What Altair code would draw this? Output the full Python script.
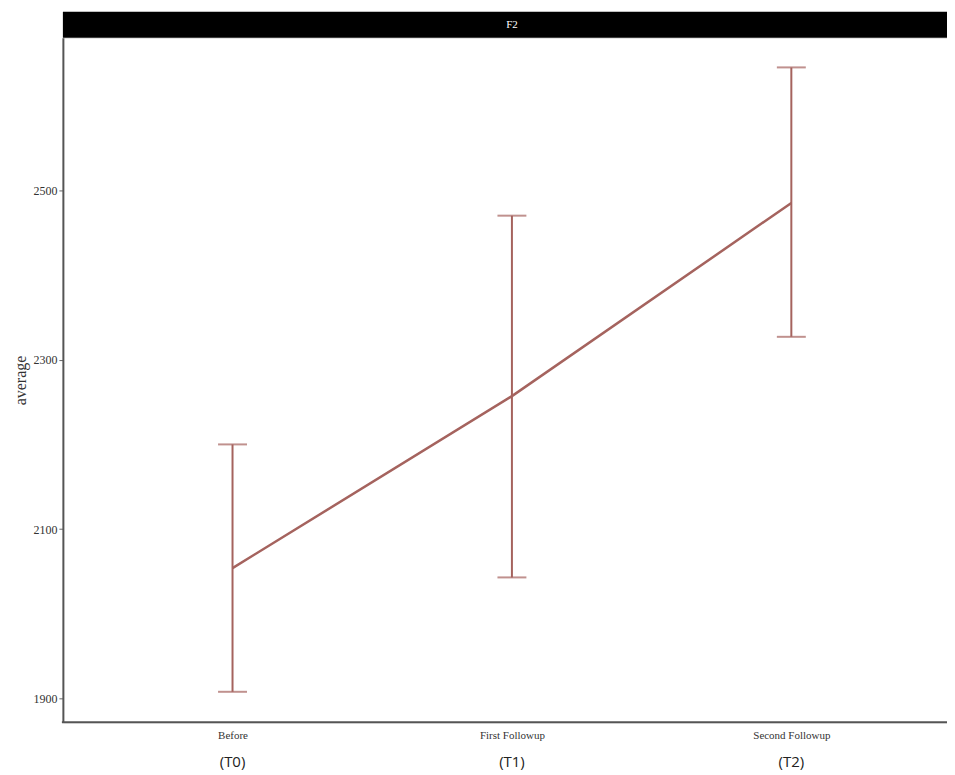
import altair as alt
import pandas as pd

categories = ["Before", "First Followup", "Second Followup"]
codes = ["(T0)", "(T1)", "(T2)"]
means = [2054, 2257, 2485]
lowers = [1908, 2043, 2327]
uppers = [2200, 2470, 2645]
panel_label = "F2"

df = pd.DataFrame({"time": categories, "code": codes, "mean": means,
                   "lo": lowers, "hi": uppers})

W, H = 886, 686
COLOR = "#a5635e"

xscale = alt.Scale(type="point", padding=0, range=[170, 730])
xenc = alt.X("time:N", sort=categories, title=None, scale=xscale,
             axis=alt.Axis(labelFont="Liberation Serif", labelFontSize=11,
                           labelColor="#333", labelAngle=0, labelAlign="center",
                           labelBaseline="top", labelPadding=7,
                           tickSize=0, domain=False, grid=False))
yscale = alt.Scale(domain=[1872, 2680], nice=False, zero=False)
yenc = alt.Y("mean:Q", scale=yscale, title="average",
             axis=alt.Axis(values=[1900, 2100, 2300, 2500], grid=False, format="d",
                           labelFont="Liberation Serif", labelFontSize=12,
                           labelColor="#333", tickSize=4, tickColor="#666",
                           domainColor="#555", domainWidth=2,
                           titleFont="Liberation Serif", titleFontSize=16,
                           titleFontWeight="normal", titleColor="#333",
                           titlePadding=4))

base = alt.Chart(df)
xplain = alt.X("time:N", sort=categories, scale=xscale)

line = base.mark_line(color=COLOR, strokeWidth=2.5).encode(x=xenc, y=yenc)
rule = base.mark_rule(color=COLOR, strokeWidth=2).encode(
    x=xplain, y=alt.Y("lo:Q", scale=yscale), y2="hi:Q")
cap_lo = base.mark_tick(color=COLOR, thickness=2, size=29, orient="horizontal").encode(
    x=xplain, y=alt.Y("lo:Q", scale=yscale))
cap_hi = base.mark_tick(color=COLOR, thickness=2, size=29, orient="horizontal").encode(
    x=xplain, y=alt.Y("hi:Q", scale=yscale))

codes_text = base.mark_text(font="Open Sans", fontSize=15, color="#222",
                            baseline="middle").encode(
    x=xplain, y=alt.value(H + 40), text="code:N")

one = pd.DataFrame({"label": [panel_label]})
xaxis_line = alt.Chart(one).mark_rule(color="#555", strokeWidth=2).encode(
    x=alt.value(-1), x2=alt.value(W), y=alt.value(H))
strip = alt.Chart(one).mark_rect(color="black").encode(
    x=alt.value(0), x2=alt.value(W), y=alt.value(-26), y2=alt.value(0))
strip_text = alt.Chart(one).mark_text(
    color="white", font="Liberation Serif", fontSize=11).encode(
    x=alt.value(450), y=alt.value(-13), text="label:N")

chart = alt.layer(strip, strip_text, xaxis_line, rule, cap_lo, cap_hi, line,
                  codes_text).properties(
    width=W, height=H,
    autosize=alt.AutoSizeParams(type="none"),
    padding={"left": 55, "top": 29, "right": 0, "bottom": 50},
).configure_view(stroke=None).configure(background="white")

chart.save("out.html", embed_options={"renderer": "svg", "actions": False})
